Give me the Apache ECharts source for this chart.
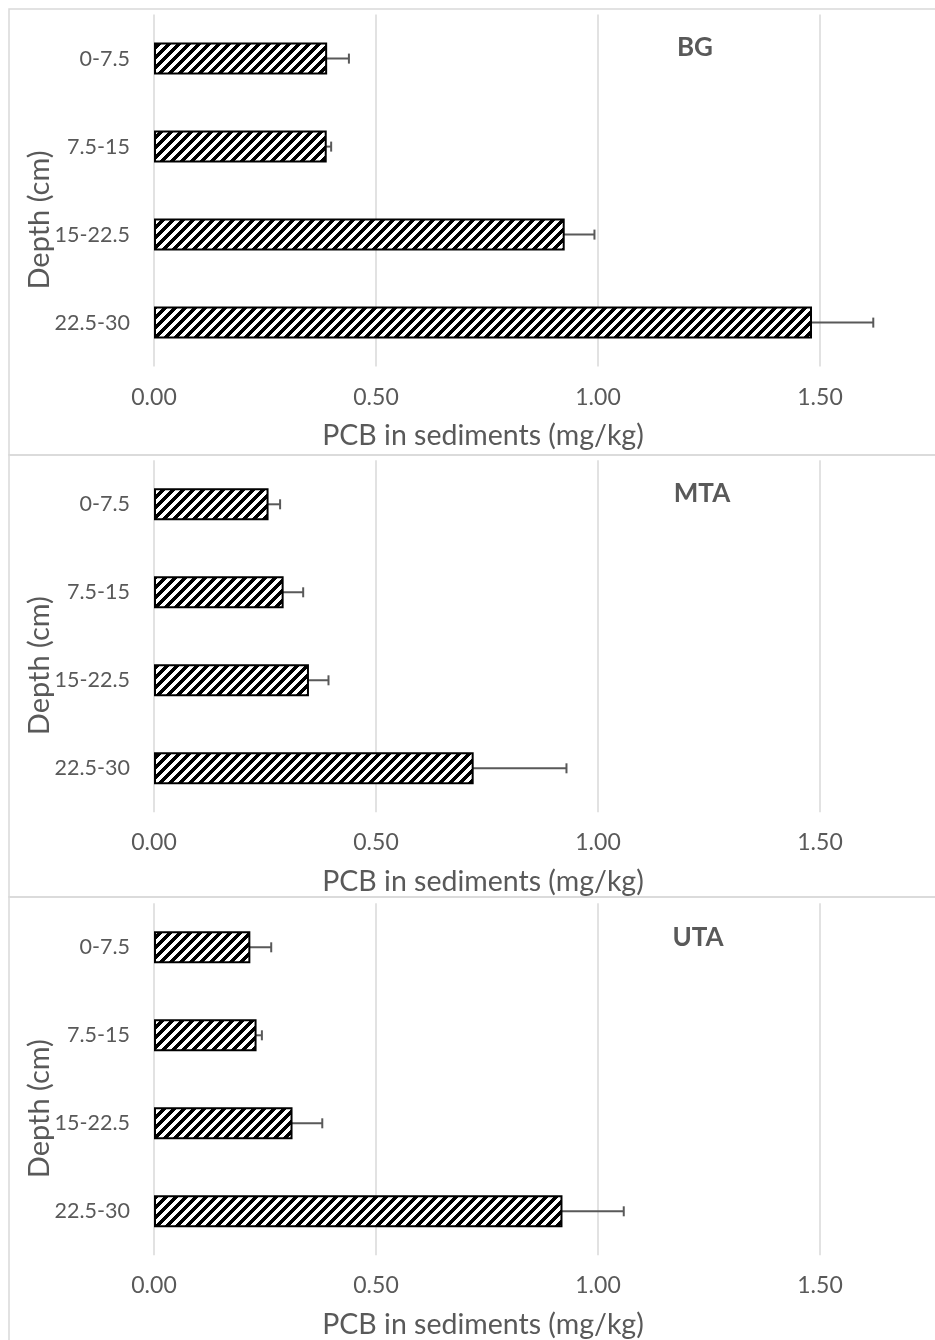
<!DOCTYPE html>
<html>
<head>
<meta charset="utf-8">
<script src="https://cdn.jsdelivr.net/npm/echarts@6/dist/echarts.min.js"></script>
<style>
html,body{margin:0;padding:0;background:#fff;}
#chart{width:935px;height:1340px;}
</style>
</head>
<body>
<div id="chart"></div>
<script>
// ---- data ----
const categories = ['0-7.5', '7.5-15', '15-22.5', '22.5-30'];
const panelNames = ['BG', 'MTA', 'UTA'];
const bgMean  = [0.390, 0.389, 0.925, 1.482];
const bgErr   = [0.049, 0.010, 0.067, 0.138];
const mtaMean = [0.258, 0.292, 0.349, 0.720];
const mtaErr  = [0.026, 0.044, 0.044, 0.209];
const utaMean = [0.217, 0.231, 0.312, 0.920];
const utaErr  = [0.047, 0.012, 0.067, 0.138];
const xTickValues = [0, 0.5, 1.0, 1.5, 2.0];
const xAxisTitle = 'PCB in sediments (mg/kg)';
const yAxisTitle = 'Depth (cm)';

const means = [bgMean, mtaMean, utaMean];
const errs = [bgErr, mtaErr, utaErr];

// ---- hatch pattern ----
function makeHatch() {
  const n = 10;
  const c = document.createElement('canvas');
  c.width = n; c.height = n;
  const ctx = c.getContext('2d');
  ctx.fillStyle = '#ffffff';
  ctx.fillRect(0, 0, n, n);
  ctx.fillStyle = '#000000';
  for (let x = 0; x < n; x++) {
    for (let y = 0; y < n; y++) {
      if (((x + y) % n) < 5) ctx.fillRect(x, y, 1, 1);
    }
  }
  return c;
}
const hatch = makeHatch();

const FONT = 'Lato';
const TXT = '#595959';
const panelTops = [14.6, 460.3, 903.3];
const plotH = 352;
const zeroX = 154;
const pxPerUnit = 444;

const grids = [], xAxes = [], yAxes = [], series = [], graphics = [];
const panelBorders = [[9, 446], [455, 442], [897, 460]];
const nameCenters = [[695, 48], [702, 494], [698, 938]];

panelTops.forEach((top, i) => {
  grids.push({ left: zeroX, top: top, width: pxPerUnit * xTickValues[xTickValues.length - 1], height: plotH,
    outerBoundsMode: 'none', containLabel: false });
  xAxes.push({
    type: 'value', gridIndex: i, min: xTickValues[0], max: xTickValues[xTickValues.length - 1], interval: 0.5,
    axisLine: { show: false }, axisTick: { show: false },
    axisLabel: { color: TXT, fontFamily: FONT, fontSize: 23, margin: 19, formatter: v => v.toFixed(2) },
    splitLine: { show: true, lineStyle: { color: '#d9d9d9', width: 1.5 } }
  });
  yAxes.push({
    type: 'category', gridIndex: i, data: categories, inverse: true,
    axisLine: { show: false }, axisTick: { show: false },
    axisLabel: { color: TXT, fontFamily: FONT, fontSize: 21.5, margin: 24 },
    splitLine: { show: false }
  });
  series.push({
    type: 'bar', xAxisIndex: i, yAxisIndex: i, barWidth: 32,
    data: means[i],
    itemStyle: { color: { image: hatch, repeat: 'repeat' }, borderColor: '#000', borderWidth: 2 },
    silent: true, animation: false
  });
  series.push({
    type: 'custom', xAxisIndex: i, yAxisIndex: i, silent: true, animation: false,
    data: means[i].map((m, k) => [m, k, errs[i][k]]),
    encode: { x: 0, y: 1 },
    renderItem: function (params, api) {
      const m = api.value(0), k = api.value(1), e = api.value(2);
      const p1 = api.coord([m - e, k]);
      const p2 = api.coord([m + e, k]);
      const h = 5;
      const st = { stroke: '#595959', lineWidth: 2 };
      return {
        type: 'group',
        children: [
          { type: 'line', shape: { x1: p1[0], y1: p1[1], x2: p2[0], y2: p2[1] }, style: st },
          { type: 'line', shape: { x1: p1[0], y1: p1[1] - h, x2: p1[0], y2: p1[1] + h }, style: st },
          { type: 'line', shape: { x1: p2[0], y1: p2[1] - h, x2: p2[0], y2: p2[1] + h }, style: st }
        ]
      };
    }
  });
  const off = top - panelTops[0];
  graphics.push({
    type: 'rect', silent: true, z: -1,
    shape: { x: 9, y: panelBorders[i][0], width: 1000, height: panelBorders[i][1] },
    style: { fill: null, stroke: '#d9d9d9', lineWidth: 1.5 }
  });
  graphics.push({
    type: 'text', silent: true,
    style: { text: xAxisTitle, x: 483, y: 436 + off, align: 'center', verticalAlign: 'middle',
      fill: TXT, font: '28.5px ' + FONT }
  });
  graphics.push({
    type: 'text', silent: true, rotation: Math.PI / 2, x: 40, y: 220 + off,
    style: { text: yAxisTitle, x: 0, y: 0, align: 'center', verticalAlign: 'middle',
      fill: TXT, font: '29px ' + FONT }
  });
  graphics.push({
    type: 'text', silent: true,
    style: { text: panelNames[i], x: nameCenters[i][0], y: nameCenters[i][1], align: 'center', verticalAlign: 'middle',
      fill: TXT, font: 'bold 26px ' + FONT }
  });
});

const chart = echarts.init(document.getElementById('chart'), null, { renderer: 'canvas' });
chart.setOption({
  animation: false,
  backgroundColor: '#ffffff',
  grid: grids,
  xAxis: xAxes,
  yAxis: yAxes,
  series: series,
  graphic: graphics
});
</script>
</body>
</html>
